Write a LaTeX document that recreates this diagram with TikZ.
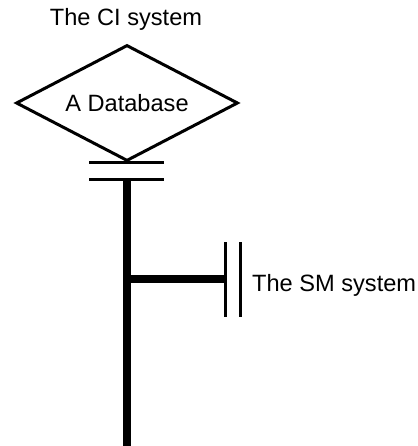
\documentclass[tikz,border=0pt]{standalone}
\usepackage{fontspec}
\setmainfont{Liberation Sans}
\usetikzlibrary{shapes.geometric}
\tikzset{
  lbl/.style={font=\fontsize{23.6}{28}\selectfont, inner sep=0pt},
  dbshape/.style={diamond, aspect=1.91, draw, line width=3pt, minimum width=222pt, minimum height=116pt, inner sep=0pt, font=\fontsize{23.6}{28}\selectfont},
  bar/.style={line width=3pt},
  trunk/.style={line width=8pt},
}
\begin{document}
\begin{tikzpicture}[x=1pt,y=-1pt]
\useasboundingbox (0,0) rectangle (417,446);
\node[dbshape] (db) at (127,103) {A Database};
\node[lbl, anchor=base] (ci) at (126,26) {The CI system};
% double bar under the diamond
\coordinate (b1l) at (89,163);
\coordinate (b1r) at (164,163);
\coordinate (b2l) at (89,180);
\coordinate (b2r) at (164,180);
\draw[bar] (b1l) -- (b1r);
\draw[bar] (b2l) -- (b2r);
% trunk
\coordinate (ttop) at (126.5,180);
\coordinate (tbot) at (126.5,446);
\coordinate (j) at (126.5,279);
\coordinate (sm) at (225,279);
\draw[trunk] (ttop) -- (tbot);
\draw[trunk] (j) -- (sm);
% double bar at SM
\coordinate (s1t) at (225,242);
\coordinate (s1b) at (225,317);
\coordinate (s2t) at (240,242);
\coordinate (s2b) at (240,317);
\draw[bar] (s1t) -- (s1b);
\draw[bar] (s2t) -- (s2b);
\node[lbl, anchor=base west] (smt) at (252,291.5) {The SM system};
\end{tikzpicture}
\end{document}
